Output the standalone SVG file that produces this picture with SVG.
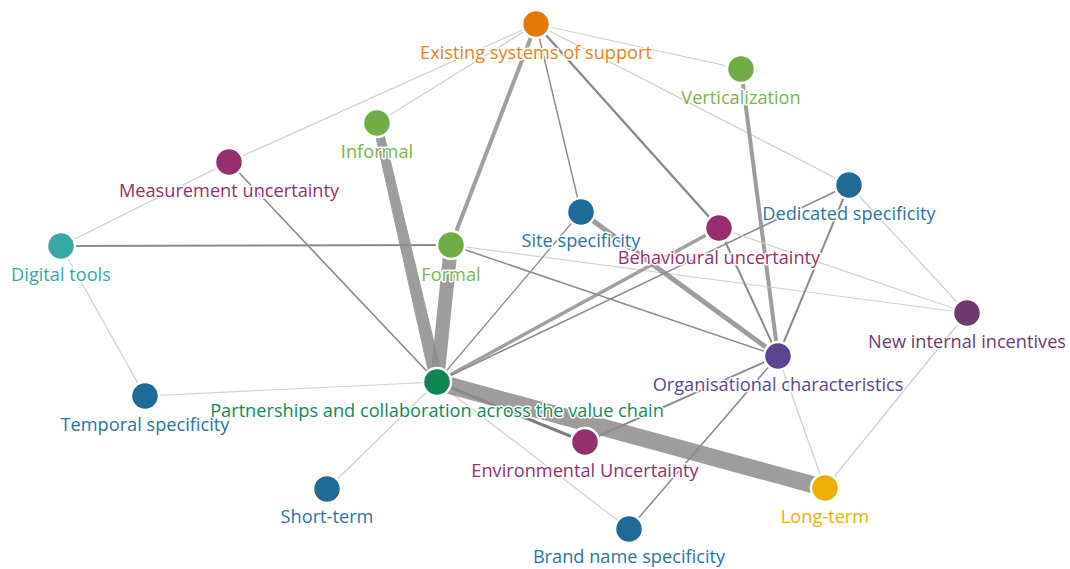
<svg xmlns="http://www.w3.org/2000/svg" width="1070" height="569" viewBox="0 0 1070 569">
<style>
.e{fill:none;stroke-linecap:butt}
.l1{stroke:#cfcfcf;stroke-width:1.2}
.l2{stroke:#8a8a8a;stroke-width:1.8}
.l3{stroke:#8f8f8f;stroke-width:3;opacity:.85}
.th{stroke:#8c8c8c;opacity:.85}
.n circle{stroke:#fff;stroke-width:2.5}
.n text{font-family:"Open Sans","Liberation Sans",sans-serif;font-size:18.2px;text-anchor:middle;stroke:#fff;stroke-width:3;paint-order:stroke;stroke-linejoin:round}
</style>
<rect width="1070" height="569" fill="#fff"/>
<g id="connectors" class="e">
<line class="e l1" x1="536" y1="24" x2="229" y2="162"/>
<line class="e l1" x1="536" y1="24" x2="377" y2="123"/>
<line class="e l3" x1="536" y1="24" x2="451" y2="245" style="stroke-width:4"/>
<line class="e l2" x1="536" y1="24" x2="581" y2="212" style="stroke-width:1.4"/>
<line class="e l2" x1="536" y1="24" x2="719" y2="228" style="stroke-width:2.4"/>
<line class="e l1" x1="536" y1="24" x2="741" y2="69"/>
<line class="e l1" x1="536" y1="24" x2="849" y2="185"/>
<line class="e th" x1="741" y1="69" x2="778" y2="356" style="stroke-width:4"/>
<polygon class="th" fill="#8c8c8c" stroke="none" points="373,124 381,122 443,380 431,383"/>
<line class="e th" x1="451" y1="245" x2="437" y2="382" style="stroke-width:14"/>
<line class="e l2" x1="451" y1="245" x2="61" y2="246" style="stroke-width:2"/>
<line class="e l1" x1="451" y1="245" x2="967" y2="313"/>
<line class="e l2" x1="451" y1="245" x2="778" y2="356" style="stroke-width:1.5"/>
<line class="e l1" x1="229" y1="162" x2="61" y2="246"/>
<line class="e l2" x1="229" y1="162" x2="437" y2="382" style="stroke-width:1.6"/>
<line class="e l1" x1="61" y1="246" x2="145" y2="396"/>
<line class="e l1" x1="145" y1="396" x2="437" y2="382"/>
<line class="e l1" x1="437" y1="382" x2="327" y2="489"/>
<line class="e l1" x1="437" y1="382" x2="629" y2="529"/>
<line class="e l2" x1="437" y1="382" x2="581" y2="212" style="stroke-width:1.3"/>
<line class="e l3" x1="437" y1="382" x2="719" y2="228" style="stroke-width:3.5"/>
<line class="e l2" x1="437" y1="382" x2="849" y2="185" style="stroke-width:1.5"/>
<line class="e l3" x1="437" y1="382" x2="585" y2="442" style="stroke-width:3;stroke:#666"/>
<line class="e th" x1="437" y1="382" x2="825" y2="488" style="stroke-width:17"/>
<line class="e th" x1="581" y1="212" x2="778" y2="356" style="stroke-width:5"/>
<line class="e l2" x1="719" y1="228" x2="778" y2="356" style="stroke-width:2"/>
<line class="e l1" x1="719" y1="228" x2="967" y2="313"/>
<line class="e l2" x1="849" y1="185" x2="778" y2="356" style="stroke-width:2"/>
<line class="e l1" x1="849" y1="185" x2="967" y2="313"/>
<line class="e l2" x1="778" y1="356" x2="585" y2="442" style="stroke-width:2"/>
<line class="e l2" x1="778" y1="356" x2="629" y2="529" style="stroke-width:1.5"/>
<line class="e l1" x1="778" y1="356" x2="825" y2="488"/>
<line class="e l1" x1="967" y1="313" x2="825" y2="488"/>
</g>
<g id="n-ess" class="n"><circle cx="536" cy="24" r="14" fill="#e27b06"/><text x="536" y="59" fill="#e8821a">Existing systems of support</text></g>
<g id="n-vert" class="n"><circle cx="741" cy="69" r="14" fill="#70ad47"/><text x="741" y="104" fill="#7ab648">Verticalization</text></g>
<g id="n-informal" class="n"><circle cx="377" cy="123" r="14" fill="#70ad47"/><text x="377" y="158" fill="#7ab648">Informal</text></g>
<g id="n-meas" class="n"><circle cx="229" cy="162" r="14" fill="#94306b"/><text x="229" y="197" fill="#94306b">Measurement uncertainty</text></g>
<g id="n-ded" class="n"><circle cx="849" cy="185" r="14" fill="#1f6a96"/><text x="849" y="220" fill="#2a74a3">Dedicated specificity</text></g>
<g id="n-site" class="n"><circle cx="581" cy="212" r="14" fill="#1f6a96"/><text x="581" y="247" fill="#2a74a3">Site specificity</text></g>
<g id="n-digital" class="n"><circle cx="61" cy="246" r="14" fill="#38a8a5"/><text x="61" y="281" fill="#38a8a5">Digital tools</text></g>
<g id="n-formal" class="n"><circle cx="451" cy="245" r="14" fill="#70ad47"/><text x="451" y="281" fill="#7ab648">Formal</text></g>
<g id="n-behav" class="n"><circle cx="719" cy="228" r="14" fill="#94306b"/><text x="719" y="264" fill="#94306b">Behavioural uncertainty</text></g>
<g id="n-nii" class="n"><circle cx="967" cy="313" r="14" fill="#6d3b6e"/><text x="967" y="348" fill="#6d3b6e">New internal incentives</text></g>
<g id="n-org" class="n"><circle cx="778" cy="356" r="14" fill="#5c4590"/><text x="778" y="391" fill="#5c4590">Organisational characteristics</text></g>
<g id="n-part" class="n"><circle cx="437" cy="382" r="14" fill="#0e8553"/><text x="437" y="417" fill="#138a5a">Partnerships and collaboration across the value chain</text></g>
<g id="n-temp" class="n"><circle cx="145" cy="396" r="14" fill="#1f6a96"/><text x="145" y="431" fill="#2a74a3">Temporal specificity</text></g>
<g id="n-env" class="n"><circle cx="585" cy="442" r="14" fill="#94306b"/><text x="585" y="477" fill="#94306b">Environmental Uncertainty</text></g>
<g id="n-long" class="n"><circle cx="825" cy="488" r="14" fill="#edae0a"/><text x="825" y="523" fill="#edae0a">Long-term</text></g>
<g id="n-short" class="n"><circle cx="327" cy="489" r="14" fill="#1f6a96"/><text x="327" y="523" fill="#2a74a3">Short-term</text></g>
<g id="n-brand" class="n"><circle cx="629" cy="529" r="14" fill="#1f6a96"/><text x="629" y="563" fill="#2a74a3">Brand name specificity</text></g>
</svg>
